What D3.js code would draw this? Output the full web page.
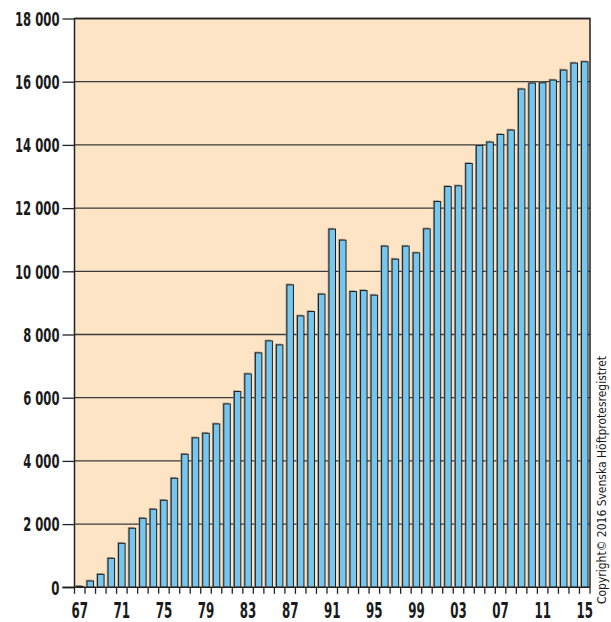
<!DOCTYPE html>
<html>
<head>
<meta charset="utf-8">
<script src="https://cdn.jsdelivr.net/npm/d3@7"></script>
<style>
  body { margin: 0; background: #fff; }
  text { font-family: "DejaVu Sans Condensed", "Liberation Sans", sans-serif; fill: #1a1a1a; }
</style>
</head>
<body>
<script>
// år och antal primäroperationer per år
const years = d3.range(1967, 2016);
const counts = [
  30, 200, 410, 918, 1393, 1868, 2185, 2470, 2754,
  3451, 4211, 4730, 4875, 5170, 5803, 6195, 6753, 7418, 7798, 7671,
  9571, 8589, 8726, 9277, 11335, 10986, 9359, 9391, 9245,
  10796, 10384, 10796, 10584, 11344, 12208, 12683, 12705, 13412,
  13982, 14089, 14330, 14469, 15767, 15957, 15966, 16052, 16368, 16590, 16631
];
const yTicks = d3.range(0, 18001, 2000);
const xLabelYears = d3.range(1967, 2016, 4);
const copyright = "Copyright© 2016 Svenska Höftprotesregistret";

const width = 611, height = 622;
const plotLeft = 74.5, plotRight = 590, plotTop = 18.5, plotBottom = 587.3;

// smal text: bredd per siffra / mellanslag
const textWidth = (s, digit, space) =>
  s.split("").reduce((w, c) => w + (c === " " ? space : digit), 0);

const svg = d3.select("body").append("svg")
  .attr("width", width)
  .attr("height", height);

const x = d3.scaleBand().domain(years).range([plotLeft, plotRight])
  .paddingInner(0.38).paddingOuter(0.19);
const xEdge = d3.scaleBand().domain(years).range([plotLeft, plotRight]).padding(0);
const y = d3.scaleLinear().domain([0, 18000]).range([plotBottom, plotTop]);

// bakgrund
svg.append("rect")
  .attr("x", plotLeft).attr("y", plotTop)
  .attr("width", plotRight - plotLeft).attr("height", plotBottom - plotTop)
  .attr("fill", "#fce4c5");

// stödlinjer
svg.append("g").selectAll("line").data(yTicks.slice(1)).join("line")
  .attr("x1", plotLeft).attr("x2", plotRight)
  .attr("y1", d => y(d)).attr("y2", d => y(d))
  .attr("stroke", "#3a3a3a").attr("stroke-width", 1.3);

// staplar med skugga
const bars = svg.append("g");
bars.selectAll("rect.shadow").data(counts).join("rect")
  .attr("class", "shadow")
  .attr("x", (d, i) => x(years[i]) - 1.3)
  .attr("y", d => y(d) - 1.3)
  .attr("width", x.bandwidth())
  .attr("height", d => plotBottom - y(d))
  .attr("fill", "#8a8580").attr("opacity", 0.75);
bars.selectAll("rect.bar").data(counts).join("rect")
  .attr("class", "bar")
  .attr("x", (d, i) => x(years[i]))
  .attr("y", d => y(d))
  .attr("width", x.bandwidth())
  .attr("height", d => plotBottom - y(d))
  .attr("fill", "#76c7f0")
  .attr("stroke", "#1e1e1e").attr("stroke-width", 1);

// ram
svg.append("path")
  .attr("d", `M${plotLeft},${plotBottom}V${plotTop}H${plotRight}V${plotBottom}`)
  .attr("fill", "none").attr("stroke", "#222").attr("stroke-width", 1.5);

// y-axel
const yFmt = d => d3.format(",")(d).replace(",", " ");
const yAxis = svg.append("g").attr("transform", `translate(${plotLeft},0)`)
  .call(d3.axisLeft(y).tickValues(yTicks).tickSize(12).tickPadding(3).tickFormat(yFmt));
yAxis.select(".domain").remove();
yAxis.selectAll(".tick line").attr("stroke", "#222").attr("stroke-width", 1.3);
yAxis.selectAll(".tick text")
  .attr("font-size", 19).attr("font-weight", "bold")
  .attr("fill", "#1a1a1a").attr("dy", "0.36em")
  .attr("textLength", d => textWidth(yFmt(d), 8.2, 3.5))
  .attr("lengthAdjust", "spacingAndGlyphs");

// x-axel: streck vid varje årsgräns
svg.append("line")
  .attr("x1", plotLeft - 12).attr("x2", plotRight)
  .attr("y1", plotBottom).attr("y2", plotBottom)
  .attr("stroke", "#222").attr("stroke-width", 1.5);
const edges = years.map(d => xEdge(d)).concat([plotRight]);
svg.append("g").selectAll("line").data(edges).join("line")
  .attr("x1", d => d).attr("x2", d => d)
  .attr("y1", plotBottom).attr("y2", plotBottom + 6.5)
  .attr("stroke", "#222").attr("stroke-width", 1.3);

svg.append("g").selectAll("text").data(xLabelYears).join("text")
  .attr("x", d => x(d) + x.bandwidth() / 2)
  .attr("y", 618)
  .attr("text-anchor", "middle")
  .attr("font-size", 21).attr("font-weight", "bold")
  .attr("textLength", 16.5).attr("lengthAdjust", "spacingAndGlyphs")
  .text(d => String(d % 100).padStart(2, "0"));

// copyright
svg.append("text")
  .attr("transform", "translate(606,604) rotate(-90)")
  .attr("font-size", 12)
  .attr("textLength", 248).attr("lengthAdjust", "spacingAndGlyphs")
  .text(copyright);
</script>
</body>
</html>
